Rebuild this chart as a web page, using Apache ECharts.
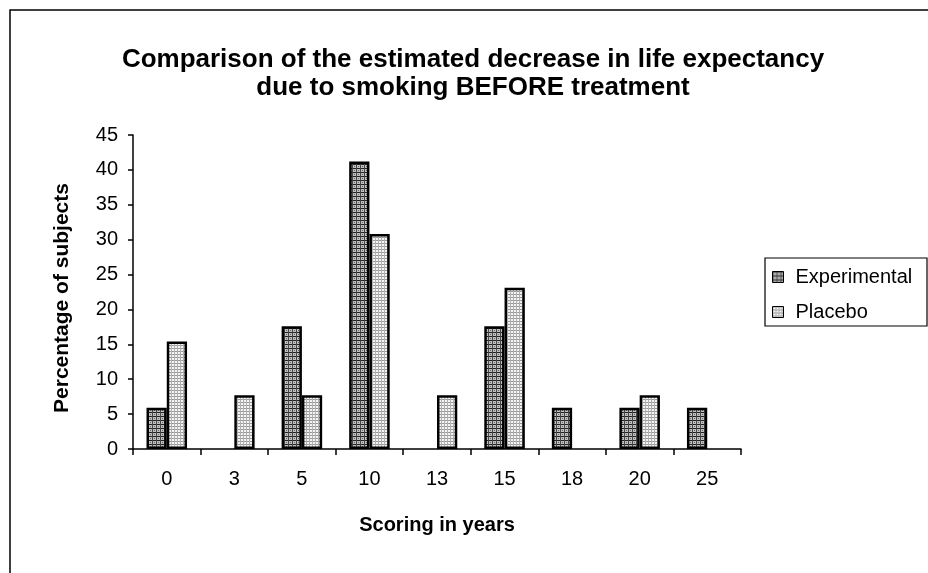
<!DOCTYPE html>
<html>
<head>
<meta charset="utf-8">
<script src="https://cdn.jsdelivr.net/npm/echarts@6/dist/echarts.min.js"></script>
<style>
html,body{margin:0;padding:0;background:#fff;}
#chart{width:928px;height:573px;}
</style>
</head>
<body>
<div id="chart"></div>
<script>
const categories = ['0','3','5','10','13','15','18','20','25'];
const experimental = [5.9, 0, 17.6, 41.2, 0, 17.6, 5.9, 5.9, 5.9];
const placebo = [15.4, 7.7, 7.7, 30.8, 7.7, 23.1, 0, 7.7, 0];
const seriesNames = ['Experimental', 'Placebo'];
const titleText = 'Comparison of the estimated decrease in life expectancy\ndue to smoking BEFORE treatment';
const yAxisName = 'Percentage of subjects';
const xAxisName = 'Scoring in years';

function makePattern(kind) {
  const c = document.createElement('canvas');
  if (kind === 'exp') {
    c.width = 4; c.height = 4;
    const g = c.getContext('2d');
    g.fillStyle = '#c0c0c0'; g.fillRect(0,0,4,4);
    g.fillStyle = '#222'; g.fillRect(0,0,4,1);
    g.fillStyle = '#444'; g.fillRect(0,0,1,4);
    g.fillStyle = '#666'; g.fillRect(2,2,1,1);
  } else {
    c.width = 3; c.height = 3;
    const g = c.getContext('2d');
    g.fillStyle = '#f4f4f4'; g.fillRect(0,0,3,3);
    g.fillStyle = '#999'; g.fillRect(0,0,3,1);
    g.fillStyle = '#b0b0b0'; g.fillRect(0,0,1,3);
  }
  return c;
}
const expFill = {image: makePattern('exp'), repeat: 'repeat'};
const plaFill = {image: makePattern('pla'), repeat: 'repeat'};
const noZero = arr => arr.map(v => (v === 0 ? '-' : v));

const font = 'Liberation Sans, Arial, sans-serif';
const chart = echarts.init(document.getElementById('chart'));
chart.setOption({
  backgroundColor: '#fff',
  animation: false,
  title: {
    text: titleText,
    left: 468, textAlign: 'center', top: 41,
    textStyle: {fontFamily: font, fontWeight: 'bold', fontSize: 26, lineHeight: 28, color: '#000'}
  },
  graphic: [{
    type: 'rect', shape: {x: 10, y: 10, width: 930, height: 580},
    style: {fill: 'none', stroke: '#000', lineWidth: 1.5}, silent: true
  }, {
    type: 'rect', shape: {x: 765, y: 258, width: 162, height: 68},
    style: {fill: 'none', stroke: '#000', lineWidth: 1.2}, silent: true
  }],
  legend: {
    orient: 'vertical', left: 772, top: 267, padding: 0,
    itemWidth: 11, itemHeight: 11, itemGap: 15,
    textStyle: {fontFamily: font, fontSize: 20, color: '#000', padding: [0,0,0,7]},
    data: seriesNames.map((n, i) => ({name: n, icon: 'rect',
      itemStyle: {color: i === 0 ? expFill : plaFill, borderColor: '#000', borderWidth: 1}}))
  },
  grid: {left: 133, right: 187, top: 135, bottom: 124, containLabel: false},
  xAxis: {
    type: 'category', data: categories,
    name: xAxisName, nameLocation: 'middle', nameGap: 66,
    nameTextStyle: {fontFamily: font, fontWeight: 'bold', fontSize: 20, color: '#000'},
    axisLine: {lineStyle: {color: '#000', width: 1.5}},
    axisTick: {show: true, alignWithLabel: false, length: 6, lineStyle: {color: '#000', width: 1.5}},
    axisLabel: {fontFamily: font, fontSize: 20, color: '#000', margin: 20},
    splitLine: {show: false}
  },
  yAxis: {
    type: 'value', min: 0, max: 45, interval: 5,
    name: yAxisName, nameLocation: 'middle', nameGap: 60, nameRotate: 90,
    nameTextStyle: {fontFamily: font, fontWeight: 'bold', fontSize: 21, color: '#000', padding: [0,12,0,0]},
    axisLine: {show: true, lineStyle: {color: '#000', width: 1.5}},
    axisTick: {show: true, length: 5, lineStyle: {color: '#000', width: 1.5}},
    axisLabel: {fontFamily: font, fontSize: 20, color: '#000', margin: 15},
    splitLine: {show: false}
  },
  series: [{
    name: seriesNames[0], type: 'bar', data: noZero(experimental),
    barGap: '0%', barCategoryGap: '40%',
    itemStyle: {color: expFill, borderColor: '#000', borderWidth: 2.5}
  }, {
    name: seriesNames[1], type: 'bar', data: noZero(placebo),
    barGap: '0%', barCategoryGap: '40%',
    itemStyle: {color: plaFill, borderColor: '#000', borderWidth: 2.5}
  }]
});
</script>
</body>
</html>
